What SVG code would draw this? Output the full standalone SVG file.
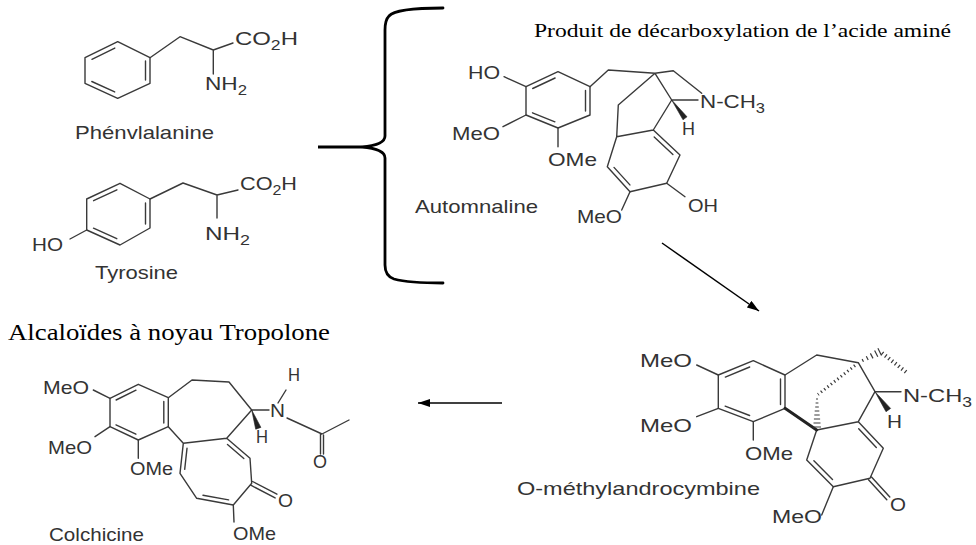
<svg xmlns="http://www.w3.org/2000/svg" width="976" height="545" viewBox="0 0 976 545">
<defs>
<style>
.b{stroke:#3a3a3a;stroke-width:1.4;fill:none;stroke-linecap:round;stroke-linejoin:round}
.bold{stroke:#222;stroke-width:3;fill:none;stroke-linecap:round}
.hash{stroke:#3a3a3a;fill:none}
.w{fill:#222;stroke:#222;stroke-width:0.6}
.l{font-family:"Liberation Sans",Arial,sans-serif;font-size:19px;fill:#333}
.t{font-family:"Liberation Serif","Times New Roman",serif;fill:#000}
.c{stroke:#000;fill:none}
</style>
<marker id="ah" markerUnits="userSpaceOnUse" markerWidth="13" markerHeight="9" refX="12" refY="4" orient="auto">
<path d="M0,0 L12,4 L0,8 Z" fill="#000"/>
</marker>
</defs>
<rect width="976" height="545" fill="#fff"/>

<g id="titles">
<text class="t" x="534" y="37" font-size="19" textLength="417" lengthAdjust="spacingAndGlyphs">Produit de décarboxylation de l’acide aminé</text>
<text class="t" x="8" y="340" font-size="23" textLength="322" lengthAdjust="spacingAndGlyphs">Alcaloïdes à noyau Tropolone</text>
</g>

<g id="phenylalanine">
<path class="b" d="M117.7,41.7 L150,57.7 L150,83.3 L117.7,98.3 L85,83.3 L85,57.7 Z"/>
<path class="b" d="M145.5,61 L145.5,80 M91.9,59.3 L114.8,48.1 M114.7,91.9 L91.8,81.5"/>
<path class="b" d="M150,57.7 L180,36.7 L213.3,50 L233,43 M213.3,50 L213.3,74"/>
<text class="l" x="235" y="45" textLength="63" lengthAdjust="spacingAndGlyphs">CO<tspan font-size="14" dy="5">2</tspan><tspan dy="-5">H</tspan></text>
<text class="l" x="205" y="90" textLength="42" lengthAdjust="spacingAndGlyphs">NH<tspan font-size="14" dy="5">2</tspan></text>
<text class="l" x="75" y="139" textLength="139" lengthAdjust="spacingAndGlyphs">Phénvlalanine</text>
</g>

<g id="tyrosine">
<path class="b" d="M120,183.3 L150,199 L150,228 L120,245 L86.7,230 L86.7,199 Z"/>
<path class="b" d="M145.5,203 L145.5,224 M93.6,200.7 L116.9,189.8 M116.8,238.7 L93.5,228.2"/>
<path class="b" d="M86.7,230 L70,239 M150,199 L183,183 L217,195 L238,190 M217,195 L217,218"/>
<text class="l" x="32" y="251" textLength="31" lengthAdjust="spacingAndGlyphs">HO</text>
<text class="l" x="240" y="190" textLength="57" lengthAdjust="spacingAndGlyphs">CO<tspan font-size="14" dy="5">2</tspan><tspan dy="-5">H</tspan></text>
<text class="l" x="205" y="240" textLength="45" lengthAdjust="spacingAndGlyphs">NH<tspan font-size="14" dy="5">2</tspan></text>
<text class="l" x="95" y="279" textLength="83" lengthAdjust="spacingAndGlyphs">Tyrosine</text>
</g>

<g id="automnaline">
<path class="b" d="M558,71.7 L590,86.7 L590,115 L558,128 L526,115 L526,86.7 Z"/>
<path class="b" d="M585.5,90.5 L585.5,111 M532.7,88.5 L555.1,78 M554.9,121.8 L532.5,112.8"/>
<path class="b" d="M526,86.7 L504,76.7 M526,115 L503,126.7 M558,128 L558,146.7"/>
<path class="b" d="M590,86.7 L608.3,70 L655,73.3 L673.3,70.7 L701.7,93.3 M655,73.3 L671.7,100 L698,100 M655,73.3 L618.3,105 L616.7,136.7 L653.3,130 L671.7,100 M616.7,136.7 L607.3,166.7 L630,191.7 L666.7,183.3 L680,155 L653.3,130"/>
<path class="b" d="M614,167.4 L629.9,184.9 M672.9,154.5 L654.2,137 M630,191.7 L621.7,210 M666.7,183.3 L685,196.7"/>
<polygon class="w" points="671.7,100 687,116.8 683,119.8"/>
<text class="l" x="468" y="79" textLength="32" lengthAdjust="spacingAndGlyphs">HO</text>
<text class="l" x="452" y="140" textLength="48" lengthAdjust="spacingAndGlyphs">MeO</text>
<text class="l" x="548" y="166" textLength="49" lengthAdjust="spacingAndGlyphs">OMe</text>
<text class="l" x="700" y="108" textLength="65" lengthAdjust="spacingAndGlyphs">N-CH<tspan font-size="14" dy="5">3</tspan></text>
<text class="l" x="682" y="135" textLength="13" lengthAdjust="spacingAndGlyphs">H</text>
<text class="l" x="577" y="223" textLength="45" lengthAdjust="spacingAndGlyphs">MeO</text>
<text class="l" x="688" y="212" textLength="30" lengthAdjust="spacingAndGlyphs">OH</text>
<text class="l" x="415" y="213" textLength="123" lengthAdjust="spacingAndGlyphs">Automnaline</text>
</g>

<g id="o-methylandrocymbine">
<path class="b" d="M718.3,375 L753.3,360.7 L785,375 L785,408.3 L753.3,421.7 L718.3,408.3 Z"/>
<path class="b" d="M780.5,379 L780.5,404.5 M725.3,377.1 L749.7,367 M749.6,415.5 L725.2,406.1"/>
<path class="b" d="M718.3,375 L696.7,365 M718.3,408.3 L696.7,416.7 M753.3,421.7 L753.3,440"/>
<path class="b" d="M785,375 L816.7,355 L858.3,362.7 L875,391.7 L901,391.7 M875,391.7 L858.3,421.7 M816.7,430 L858.3,421.7 M816.7,430 L806.7,460 L833.3,486.7 L870,478.3 L883.3,448.3 L858.3,421.7"/>
<path class="b" d="M813.9,460.8 L832.5,479.5 M876.3,447.4 L858.7,428.8 M871.5,477 L889.8,497 M868.5,479.7 L886.8,499.7 M833.3,486.7 L821.7,515"/>
<path class="bold" d="M785,408.3 L816.7,430"/>
<polygon class="w" points="875,391.7 890.6,408.4 886,411.7"/>
<path class="hash" stroke-width="1.2" d="M862.1,359.1 L863.5,361.7 M866.3,356.3 L868.2,360.1 M870.4,353.4 L873,358.4 M874.6,350.5 L877.8,356.7 M877.9,348.2 L881.5,355.4"/>
<path class="hash" stroke-width="4" stroke-dasharray="1.2 3" d="M882,353 L906,372"/>
<path class="hash" stroke-width="3" stroke-dasharray="1.2 3" d="M855,365.5 L818,394.5"/>
<path class="hash" stroke-width="1.2" d="M816,399 L818,399 M815.6,403 L818.4,403 M815.2,407 L818.8,407 M814.7,411 L819.3,411 M814.3,415 L819.7,415 M813.9,419 L820.1,419 M813.5,423 L820.5,423 M813,427 L821,427"/>
<text class="l" x="640" y="367" textLength="52" lengthAdjust="spacingAndGlyphs">MeO</text>
<text class="l" x="640" y="432" textLength="52" lengthAdjust="spacingAndGlyphs">MeO</text>
<text class="l" x="745" y="460" textLength="48" lengthAdjust="spacingAndGlyphs">OMe</text>
<text class="l" x="903" y="402" textLength="69" lengthAdjust="spacingAndGlyphs">N-CH<tspan font-size="14" dy="5">3</tspan></text>
<text class="l" x="887" y="428" textLength="15" lengthAdjust="spacingAndGlyphs">H</text>
<text class="l" x="890" y="511" textLength="16" lengthAdjust="spacingAndGlyphs">O</text>
<text class="l" x="772" y="523" textLength="50" lengthAdjust="spacingAndGlyphs">MeO</text>
<text class="l" x="517" y="495" textLength="243" lengthAdjust="spacingAndGlyphs">O-méthylandrocymbine</text>
</g>

<g id="colchicine">
<path class="b" d="M110,398.3 L138.3,384.3 L168.3,397.7 L168.3,426.7 L138.3,440 L110,426.7 Z"/>
<path class="b" d="M163.8,401.5 L163.8,423 M116.1,400 L136,390.2 M135.9,434.2 L116,424.9"/>
<path class="b" d="M110,398.3 L93.3,390 M110,426.7 L95,436.7 M138.3,440 L138.3,458.3"/>
<path class="b" d="M168.3,397.7 L192,380 L229,382 L251.7,410 L226.7,438.3 L183.3,443.3 L168.3,426.7 M183.3,443.3 L180,473.3 L196.7,498.3 L233.3,505 L251.7,483.3 L250,458.3 L226.7,438.3"/>
<path class="b" d="M187,448.3 L184.7,469.3 M227.5,444.5 L243.8,458.5 M203,495.2 L228.6,499.9 M250.8,485.2 L275.1,497.9 M252.6,481.5 L276.9,494.2 M233.3,505 L234,522"/>
<path class="b" d="M251.7,410 L269,410 M278,403 L286,390 M287,418 L322,434 L349,420 M320.5,434 L320.5,454 M323.5,435 L323.5,454"/>
<polygon class="w" points="251.7,410 260.9,427.4 255.7,429.2"/>
<text class="l" x="43" y="394" textLength="46" lengthAdjust="spacingAndGlyphs">MeO</text>
<text class="l" x="48" y="454" textLength="44" lengthAdjust="spacingAndGlyphs">MeO</text>
<text class="l" x="130" y="475" textLength="43" lengthAdjust="spacingAndGlyphs">OMe</text>
<text class="l" x="288" y="381" textLength="12" lengthAdjust="spacingAndGlyphs">H</text>
<text class="l" x="270" y="417" textLength="15" lengthAdjust="spacingAndGlyphs">N</text>
<text class="l" x="256" y="443" textLength="12" lengthAdjust="spacingAndGlyphs">H</text>
<text class="l" x="313" y="468" textLength="14" lengthAdjust="spacingAndGlyphs">O</text>
<text class="l" x="278" y="507" textLength="15" lengthAdjust="spacingAndGlyphs">O</text>
<text class="l" x="233" y="540" textLength="43" lengthAdjust="spacingAndGlyphs">OMe</text>
<text class="l" x="49" y="541" textLength="95" lengthAdjust="spacingAndGlyphs">Colchicine</text>
</g>

<g id="connectors">
<path class="c" stroke-width="2.8" stroke-linecap="round" d="M443,8 C412,8 394,10 389,16 Q385,20 385,30 L385,136 Q385,145 362,147 Q385,149 385,158 L385,265 Q385,276 394,279 C405,282 420,283 443,283"/>
<path class="c" stroke-width="3" d="M318,147 L362,147"/>
<line class="c" stroke-width="1.5" x1="662" y1="243" x2="759" y2="311" marker-end="url(#ah)"/>
<line class="c" stroke-width="1.5" x1="502" y1="403" x2="418" y2="403" marker-end="url(#ah)"/>
</g>
</svg>
